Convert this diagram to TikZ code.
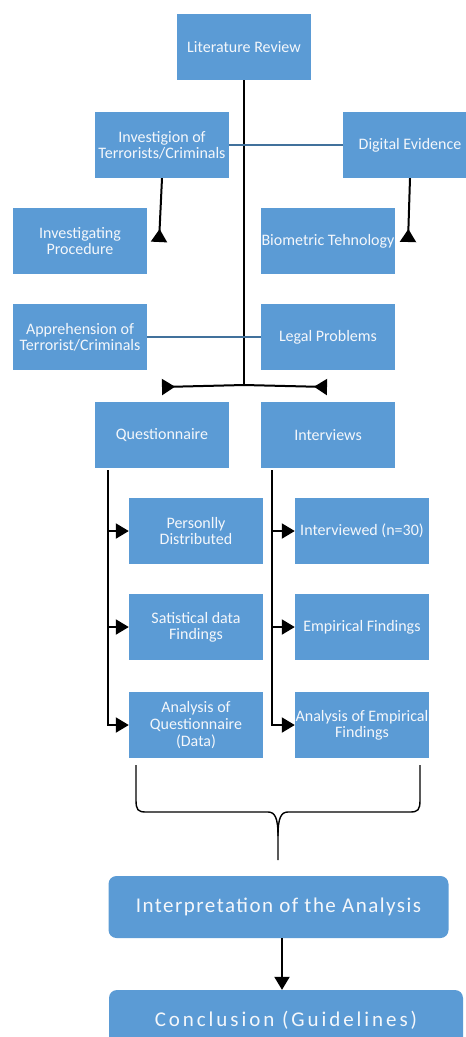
\documentclass[tikz,border=0pt]{standalone}
\usepackage{fontspec}
\setmainfont{Carlito}
\newfontfamily\anchofont[LetterSpace=7]{Carlito}
\newfontfamily\muyanchofont[LetterSpace=14]{Carlito}
\usepackage{tikz}
\usetikzlibrary{arrows.meta, positioning, calc}
\definecolor{azul}{HTML}{5B9BD5}
\definecolor{azuloscuro}{HTML}{41719C}
\definecolor{blanco}{HTML}{F4F7FB}
\tikzset{
  caja/.style={fill=azul, text=blanco, minimum width=134pt, minimum height=66pt,
               inner sep=0pt, align=center, font=\fontsize{16}{16}\selectfont},
  cajar/.style={fill=azul, text=blanco, rounded corners=8pt, minimum height=62pt,
                inner sep=1pt, align=center},
  tronco/.style={line width=2.4pt, black},
  flecha/.style={-{Triangle[length=13pt, width=15pt]}, line width=2pt, black},
  flechainv/.style={-{Triangle[reversed, length=13pt, width=16pt]}, line width=2pt, black},
  enlace/.style={line width=1.5pt, azuloscuro},
  llave/.style={line width=1.4pt, black},
}

\begin{document}
\begin{tikzpicture}[x=1pt, y=-1pt]
  \clip (0,0) rectangle (466,1037);
  % bloques de la revision
  \node[caja] (lit) at (244,47) {Literature Review};
  \node[caja] (inv) at (162,145) {Investigion of\\Terrorists/Criminals};
  \node[caja] (dig) at (410,145) {Digital Evidence};
  \node[caja] (proc) at (80,241) {Investigating\\Procedure};
  \node[caja] (bio) at (328,241) {Biometric Tehnology};
  \node[caja] (apr) at (80,337) {Apprehension of\\Terrorist/Criminals};
  \node[caja] (leg) at (328,337) {Legal Problems};
  % metodos
  \node[caja] (cues) at (162,435) {Questionnaire};
  \node[caja] (entr) at (328,435) {Interviews};
  \node[caja] (pers) at (196,531) {Personlly\\Distributed};
  \node[caja] (esta) at (196,627) {Satistical data\\Findings};
  \node[caja, font=\fontsize{16}{17}\selectfont] (anac) at (196,725) {Analysis of\\Questionnaire\\(Data)};
  \node[caja] (num) at (362,531) {Interviewed (n=30)};
  \node[caja] (emp) at (362,627) {Empirical Findings};
  \node[caja] (anae) at (362,725) {Analysis of Empirical\\Findings};
  \node[cajar, minimum width=340pt, font=\anchofont\fontsize{21}{24}\selectfont]
    (interp) at (278.5,907) {Interpretation of the Analysis};
  \node[cajar, minimum width=354pt, text depth=5pt, font=\muyanchofont\fontsize{21}{24}\selectfont]
    (conc) at (286,1021) {Conclusion (Guidelines)};

  % puntos libres
  \coordinate (pie) at (244,385);
  \coordinate (iz) at (162,387);
  \coordinate (de) at (327,387);
  \coordinate (pi) at (159,242);
  \coordinate (pd) at (408,242);
  \coordinate (tq) at (108,470);
  \coordinate (ti) at (272,470);

  % conectores
  \draw[tronco] (lit.south) -- (pie);
  \draw[flechainv] (pie) -- (iz);
  \draw[flechainv] (pie) -- (de);
  \draw[enlace] (inv.east) -- (dig.west);
  \draw[enlace] (apr.east) -- (leg.west);
  \draw[flechainv] (inv.south) -- (pi);
  \draw[flechainv] (dig.south -| 410,0) -- (pd);
  \foreach \h in {pers, esta, anac}
    \draw[flecha] (tq) |- (\h.west);
  \foreach \h in {num, emp, anae}
    \draw[flecha] (ti) |- (\h.west);

  % llave
  \draw[llave] (136,765) -- (136,800) .. controls (136,810) and (138,812) .. (146,812)
    -- (268,812) .. controls (275,812) and (278,818) .. (278,836) -- (278,860);
  \draw[llave] (420,765) -- (420,800) .. controls (420,810) and (418,812) .. (410,812)
    -- (288,812) .. controls (281,812) and (278,818) .. (278,836);
  \draw[flecha] (interp.south -| 282,0) -- (conc.north -| 282,0);
\end{tikzpicture}
\end{document}
